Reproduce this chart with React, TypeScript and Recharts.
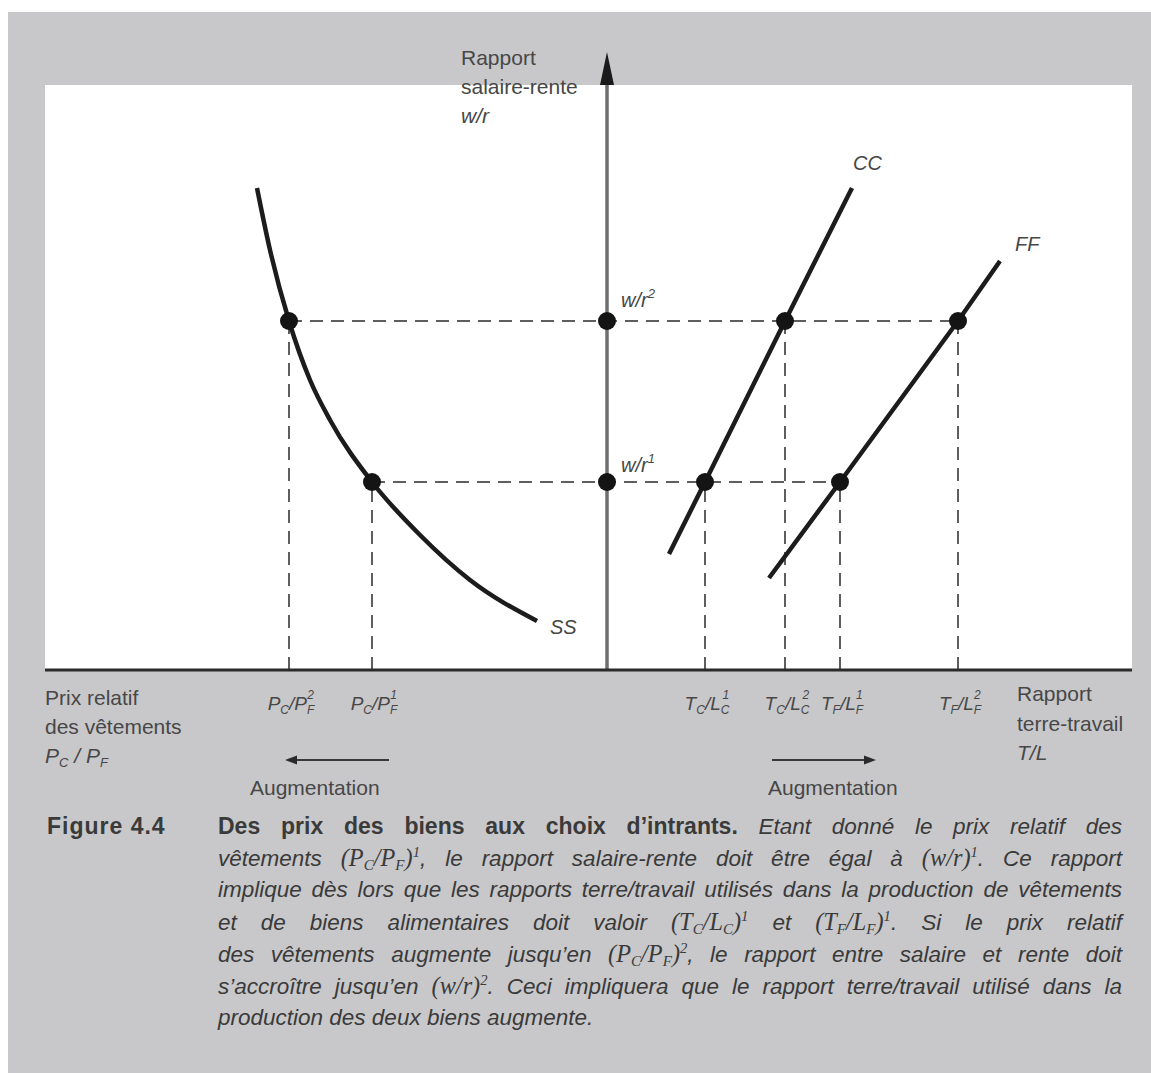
import React, { useLayoutEffect } from 'react';
import { ComposedChart, Line, Scatter, XAxis, YAxis, ReferenceDot } from 'recharts';

// Model units: horizontal axis = relative price of clothing (left, grows leftward)
// and land/labour ratio (right); vertical axis = wage/rent ratio.
const xDomain: [number, number] = [-11.24, 10.5];
const yDomain: [number, number] = [0, 12.36];
const axisTop = 11.9;

// Wage-rent levels (w/r)^1 and (w/r)^2
const wageRent1 = 3.76;
const wageRent2 = 6.98;

// SS curve: wage-rent ratio as a function of the relative price of clothing
const ssCurve = [
  { x: -7.0, y: 9.64 },
  { x: -6.74, y: 8.4 },
  { x: -6.36, y: 6.98 },
  { x: -5.94, y: 5.8 },
  { x: -5.54, y: 5.0 },
  { x: -4.7, y: 3.76 },
  { x: -3.74, y: 2.7 },
  { x: -2.74, y: 1.8 },
  { x: -1.4, y: 0.98 },
];

// CC: land/labour ratio chosen in clothing
const ccLine = [
  { x: 1.24, y: 2.32 },
  { x: 1.96, y: 3.76 },
  { x: 3.56, y: 6.98 },
  { x: 4.9, y: 9.64 },
];

// FF: land/labour ratio chosen in food
const ffLine = [
  { x: 3.24, y: 1.84 },
  { x: 4.66, y: 3.76 },
  { x: 7.02, y: 6.98 },
  { x: 7.86, y: 8.18 },
];

// Equilibrium points on each schedule
const pricePoints = [
  { x: -6.36, y: wageRent2 },
  { x: -4.7, y: wageRent1 },
];
const clothingPoints = [
  { x: 1.96, y: wageRent1 },
  { x: 3.56, y: wageRent2 },
];
const foodPoints = [
  { x: 4.66, y: wageRent1 },
  { x: 7.02, y: wageRent2 },
];
const axisPoints = [
  { x: 0, y: wageRent2 },
  { x: 0, y: wageRent1 },
];

// Tick labels under the horizontal axis
const xTicks = [
  { x: -6.36, num: 'P', numSub: 'C', den: 'P', denSub: 'F', sup: '2' },
  { x: -4.7, num: 'P', numSub: 'C', den: 'P', denSub: 'F', sup: '1' },
  { x: 1.96, num: 'T', numSub: 'C', den: 'L', denSub: 'C', sup: '1' },
  { x: 3.56, num: 'T', numSub: 'C', den: 'L', denSub: 'C', sup: '2' },
  { x: 4.66, num: 'T', numSub: 'F', den: 'L', denSub: 'F', sup: '1' },
  { x: 7.02, num: 'T', numSub: 'F', den: 'L', denSub: 'F', sup: '2' },
];

const FONT = '"Liberation Sans", Arial, Helvetica, sans-serif';
const MATH = '"Liberation Serif", "DejaVu Serif", serif';
const INK = '#474747';
const CURVE = '#1c1c1c';
const DASH = '#5e5e5e';

// Dashed guides: verticals from each schedule point down to the axis,
// horizontals joining the SS point to the FF point at each wage-rent level.
const verticalGuides = [...pricePoints, ...clothingPoints, ...foodPoints].map((p) => [
  { x: p.x, y: 0 },
  { x: p.x, y: p.y },
]);
const horizontalGuides = [wageRent1, wageRent2].map((level) => [
  { x: pricePoints.find((p) => p.y === level)!.x, y: level },
  { x: foodPoints.find((p) => p.y === level)!.x, y: level },
]);
const guides = [...horizontalGuides, ...verticalGuides];
const axisStem = [
  { x: 0, y: 0 },
  { x: 0, y: axisTop },
];
const arrowTip = [{ x: 0, y: yDomain[1] }];
const allDots = [...pricePoints, ...axisPoints, ...clothingPoints, ...foodPoints];

const RatioTick = (props: any) => {
  const { x, y, payload } = props;
  const t = xTicks.find((d) => Math.abs(d.x - payload.value) < 1e-6);
  if (!t) return null;
  return (
    <text x={x + 2} y={y + 40} textAnchor="middle" fill={INK} fontFamily={FONT} fontStyle="italic" fontSize={19}>
      <tspan>{t.num}</tspan>
      <tspan fontSize={12} dy={4}>{t.numSub}</tspan>
      <tspan dy={-4}>/{t.den}</tspan>
      <tspan fontSize={12} dy={4}>{t.denSub}</tspan>
      <tspan fontSize={12} dx={-7} dy={-15}>{t.sup}</tspan>
    </text>
  );
};

const BlackDot = (p: any) => <circle cx={p.cx} cy={p.cy} r={9} fill="#141414" />;
const ArrowHead = (p: any) => (
  <polygon points={`${p.cx},${p.cy} ${p.cx - 7},${p.cy + 33} ${p.cx + 7},${p.cy + 33}`} fill="#1a1a1a" />
);

const tag = (text: string, dx: number, dy: number, sup?: string) => (p: any) => (
  <text x={p.cx + dx} y={p.cy + dy} fill={INK} fontFamily={FONT} fontStyle="italic" fontSize={20}>
    {text}
    {sup ? (
      <tspan fontSize={13} dy={-9}>
        {sup}
      </tspan>
    ) : null}
  </text>
);

const lineCommon = {
  dataKey: 'y',
  dot: false,
  activeDot: false,
  isAnimationActive: false,
  legendType: 'none' as const,
};

function Chart() {
  return (
    <ComposedChart width={1143} height={800} margin={{ top: 40, right: 19, left: 37, bottom: 0 }}>
      <XAxis
        type="number"
        dataKey="x"
        domain={xDomain}
        allowDataOverflow
        ticks={xTicks.map((t) => t.x)}
        interval={0}
        tick={<RatioTick />}
        tickLine={false}
        tickSize={0}
        tickMargin={0}
        height={142}
        axisLine={{ stroke: '#2b2b2b', strokeWidth: 3 }}
      />
      <YAxis type="number" dataKey="y" domain={yDomain} allowDataOverflow hide />

      {guides.map((seg, i) => (
        <Line
          key={`guide-${i}`}
          {...lineCommon}
          data={seg}
          type="linear"
          stroke={DASH}
          strokeWidth={2}
          strokeDasharray="13 8"
        />
      ))}

      <Line {...lineCommon} data={axisStem} type="linear" stroke="#6e6e6e" strokeWidth={3.5} />

      <Line {...lineCommon} data={ssCurve} type="monotone" stroke={CURVE} strokeWidth={4.5} />
      <Line {...lineCommon} data={ccLine} type="linear" stroke={CURVE} strokeWidth={4.5} />
      <Line {...lineCommon} data={ffLine} type="linear" stroke={CURVE} strokeWidth={4.5} />

      <Scatter data={allDots} shape={BlackDot} isAnimationActive={false} />
      <Scatter data={arrowTip} shape={ArrowHead} isAnimationActive={false} />

      <ReferenceDot x={ccLine[ccLine.length - 1].x} y={ccLine[ccLine.length - 1].y} r={0} shape={tag('CC', 1, -18)} />
      <ReferenceDot x={ffLine[ffLine.length - 1].x} y={ffLine[ffLine.length - 1].y} r={0} shape={tag('FF', 15, -10)} />
      <ReferenceDot x={ssCurve[ssCurve.length - 1].x} y={ssCurve[ssCurve.length - 1].y} r={0} shape={tag('SS', 13, 13)} />
      <ReferenceDot x={0} y={wageRent2} r={0} shape={tag('w/r', 14, -14, '2')} />
      <ReferenceDot x={0} y={wageRent1} r={0} shape={tag('w/r', 14, -10, '1')} />
    </ComposedChart>
  );
}

const subStyle: React.CSSProperties = { fontSize: '0.62em', verticalAlign: '-0.28em', lineHeight: 0 };
const supStyle: React.CSSProperties = { fontSize: '0.6em', verticalAlign: '0.65em', lineHeight: 0 };

const Ratio = ({ a, aSub, b, bSub, sup }: { a: string; aSub?: string; b: string; bSub?: string; sup: string }) => (
  <span style={{ fontFamily: MATH, fontStyle: 'italic', fontSize: '1.08em' }}>
    ({a}
    {aSub ? <span style={subStyle}>{aSub}</span> : null}/{b}
    {bSub ? <span style={subStyle}>{bSub}</span> : null})<span style={supStyle}>{sup}</span>
  </span>
);

const justified: React.CSSProperties = { textAlign: 'justify', textAlignLast: 'justify', height: 32 };

const RightArrow = ({ flip }: { flip?: boolean }) => (
  <svg width={104} height={12} style={{ display: 'block', transform: flip ? 'scaleX(-1)' : undefined }}>
    <line x1={0} y1={6} x2={94} y2={6} stroke="#3a3a3a" strokeWidth={2} />
    <polygon points="104,6 92,1.5 92,10.5" fill="#2a2a2a" />
  </svg>
);

export default function App() {
  // The page frame (white margin + grey panel) is drawn by this component itself.
  useLayoutEffect(() => {
    document.body.style.margin = '0';
  }, []);

  return (
    <div style={{ position: 'relative', width: 1151, height: 1073, background: '#ffffff', overflow: 'hidden' }}>
      <div
        style={{
          position: 'absolute',
          left: 8,
          top: 12,
          width: 1143,
          height: 1061,
          background: '#c8c8ca',
          fontFamily: FONT,
          color: INK,
          overflow: 'hidden',
        }}
      >
        <div style={{ position: 'absolute', left: 37, top: 73, width: 1087, height: 585, background: '#ffffff' }} />
        <div style={{ position: 'absolute', left: 0, top: 0 }}>
          <Chart />
        </div>

        {/* vertical axis title */}
        <div style={{ position: 'absolute', left: 453, top: 31, fontSize: 21, lineHeight: '29px' }}>
          <div>Rapport</div>
          <div>salaire-rente</div>
          <div style={{ fontStyle: 'italic' }}>w/r</div>
        </div>

        {/* left axis title */}
        <div style={{ position: 'absolute', left: 37, top: 671, fontSize: 21, lineHeight: '29px' }}>
          <div>Prix relatif</div>
          <div>des vêtements</div>
          <div style={{ fontStyle: 'italic' }}>
            P<span style={subStyle}>C</span> / P<span style={subStyle}>F</span>
          </div>
        </div>

        {/* right axis title */}
        <div style={{ position: 'absolute', left: 1009, top: 667, fontSize: 21, lineHeight: '29.5px' }}>
          <div>Rapport</div>
          <div>terre-travail</div>
          <div style={{ fontStyle: 'italic' }}>T/L</div>
        </div>

        {/* direction of increase */}
        <div style={{ position: 'absolute', left: 277, top: 742 }}>
          <RightArrow flip />
        </div>
        <div style={{ position: 'absolute', left: 242, top: 762, fontSize: 21, lineHeight: '28px' }}>Augmentation</div>
        <div style={{ position: 'absolute', left: 764, top: 742 }}>
          <RightArrow />
        </div>
        <div style={{ position: 'absolute', left: 760, top: 762, fontSize: 21, lineHeight: '28px' }}>Augmentation</div>

        {/* caption */}
        <div
          style={{
            position: 'absolute',
            left: 39,
            top: 798,
            fontSize: 23,
            lineHeight: '32px',
            fontWeight: 700,
            letterSpacing: 1,
            color: '#3a3a3a',
          }}
        >
          Figure 4.4
        </div>
        <div
          style={{
            position: 'absolute',
            left: 210,
            top: 798,
            width: 904,
            fontSize: 22.5,
            lineHeight: '32px',
            fontStyle: 'italic',
            color: '#3a3a3a',
          }}
        >
          <div style={justified}>
            <span style={{ fontStyle: 'normal', fontWeight: 700, fontSize: 23 }}>
              Des prix des biens aux choix d’intrants.
            </span>{' '}
            Etant donné le prix relatif des
          </div>
          <div style={justified}>
            vêtements <Ratio a="P" aSub="C" b="P" bSub="F" sup="1" />, le rapport salaire-rente doit être égal à{' '}
            <Ratio a="w" b="r" sup="1" />. Ce rapport
          </div>
          <div style={justified}>
            implique dès lors que les rapports terre/travail utilisés dans la production de vêtements
          </div>
          <div style={justified}>
            et de biens alimentaires doit valoir <Ratio a="T" aSub="C" b="L" bSub="C" sup="1" /> et{' '}
            <Ratio a="T" aSub="F" b="L" bSub="F" sup="1" />. Si le prix relatif
          </div>
          <div style={justified}>
            des vêtements augmente jusqu’en <Ratio a="P" aSub="C" b="P" bSub="F" sup="2" />, le rapport entre salaire
            et rente doit
          </div>
          <div style={justified}>
            s’accroître jusqu’en <Ratio a="w" b="r" sup="2" />. Ceci impliquera que le rapport terre/travail utilisé
            dans la
          </div>
          <div style={{ height: 32 }}>production des deux biens augmente.</div>
        </div>
      </div>
    </div>
  );
}
